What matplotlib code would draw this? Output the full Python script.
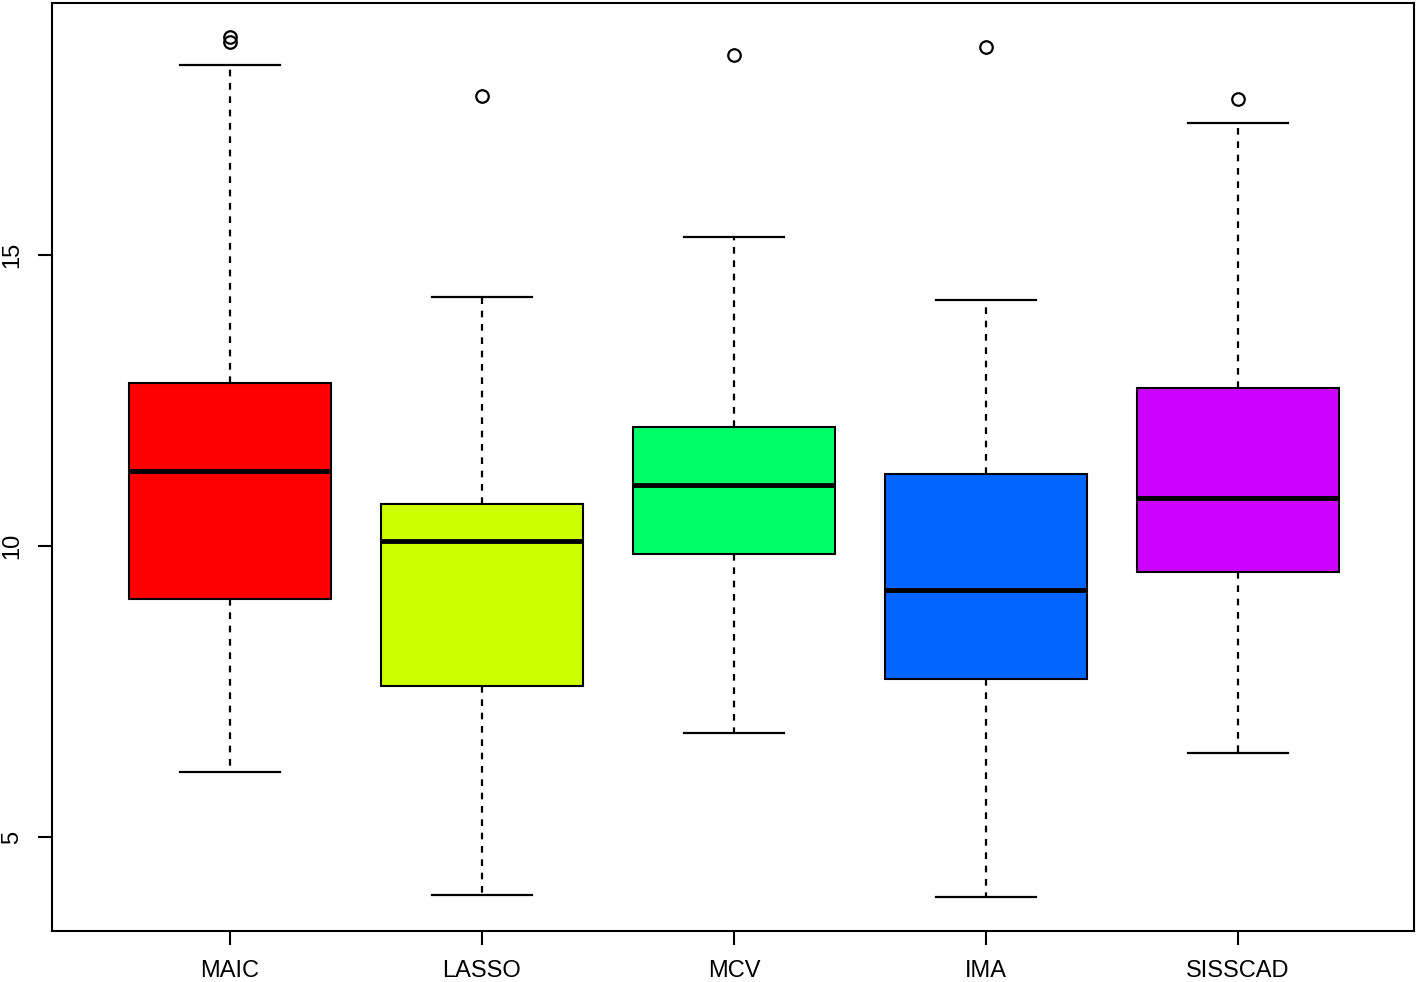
import matplotlib
matplotlib.use("Agg")
import matplotlib.pyplot as plt

plt.rcParams['font.family'] = ['Liberation Sans', 'DejaVu Sans']

# boxplot summary values
methods = ['MAIC', 'LASSO', 'MCV', 'IMA', 'SISSCAD']
whislo = [6.12, 4.00, 6.79, 3.97, 6.44]
q1 = [9.09, 7.59, 9.86, 7.71, 9.55]
med = [11.29, 10.09, 11.05, 9.24, 10.82]
q3 = [12.80, 10.72, 12.04, 11.24, 12.71]
whishi = [18.26, 14.28, 15.31, 14.23, 17.27]
fliers = [[18.75, 18.66], [17.73], [18.44], [18.57], [17.68]]
colors = ['#FF0000', '#CCFF00', '#00FF66', '#0066FF', '#CC00FF']

stats = []
for i, m in enumerate(methods):
    stats.append({'label': m, 'whislo': whislo[i], 'q1': q1[i], 'med': med[i],
                  'q3': q3[i], 'whishi': whishi[i], 'fliers': fliers[i]})

fig = plt.figure(figsize=(14.16, 9.82), dpi=100)
ax = fig.add_axes([52 / 1416, 1 - 931 / 982, (1414 - 52) / 1416, (931 - 3) / 982])

bp = ax.bxp(stats, positions=range(1, 6), widths=0.8, patch_artist=True,
            boxprops=dict(linewidth=1.5, edgecolor='black'),
            medianprops=dict(color='black', linewidth=3.5),
            whiskerprops=dict(color='black', linewidth=1.6, linestyle=(0, (3, 3))),
            capprops=dict(color='black', linewidth=1.6),
            flierprops=dict(marker='o', markersize=9, markerfacecolor='none',
                            markeredgecolor='black', markeredgewidth=1.6))
for patch, c in zip(bp['boxes'], colors):
    patch.set_facecolor(c)
# R draws the caps at half the box width
for cap in bp['caps']:
    x = cap.get_xdata()
    mid = (x[0] + x[1]) / 2
    cap.set_xdata([mid - 0.2, mid + 0.2])

ax.set_xlim(0.294, 5.698)
ax.set_ylim(3.385, 19.33)
ax.set_yticks([5, 10, 15])
ax.set_yticklabels(['5', '10', '15'], rotation=90, va='center')
ax.set_xticks(range(1, 6))
ax.set_xticklabels(methods)
ax.tick_params(axis='both', direction='out', length=10, width=1.5, labelsize=17, pad=11)
for s in ax.spines.values():
    s.set_linewidth(1.5)

fig.savefig('out.png', dpi=100)
